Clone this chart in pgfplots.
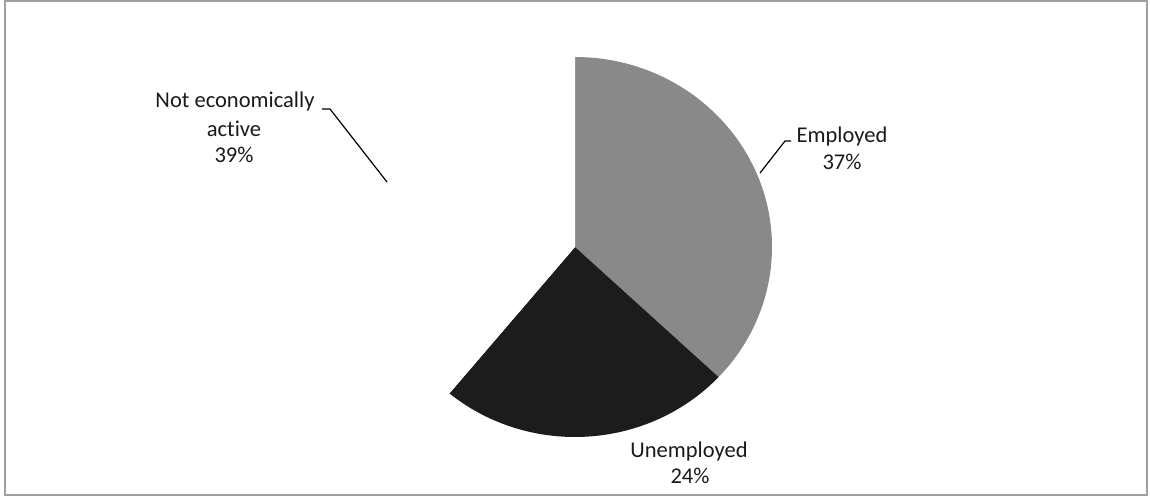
\documentclass[border=0pt]{standalone}
\usepackage{pgfplots}
\pgfplotsset{compat=1.18}
\usepackage{pgfplotstable}
\usepackage{fontspec}
\setmainfont{Carlito}[Ligatures=NoCommon]

\definecolor{empcol}{HTML}{898989}
\definecolor{unecol}{HTML}{1C1C1C}
\definecolor{txtcol}{HTML}{1A1A1A}
\definecolor{framecol}{HTML}{A0A0A0}

% shares in percent, clockwise from 12 o'clock
\pgfplotstableread{
label value
Employed 37
Unemployed 24
Inactive 39
}\piedata

\begin{document}
\begin{tikzpicture}
\pgfplotstablegetelem{0}{value}\of\piedata
\pgfmathsetmacro\aEmp{90-3.6*\pgfplotsretval}
\pgfplotstablegetelem{1}{value}\of\piedata
\pgfmathsetmacro\aUne{\aEmp-3.6*\pgfplotsretval}
\begin{axis}[
	x=0.75pt, y=0.75pt,
	xmin=0, xmax=1150, ymin=0, ymax=497,
	scale only axis,
	hide axis,
	clip=false,
]
\path (axis cs:0,0) rectangle (axis cs:1150,497);
\draw[framecol, line width=0.8pt] (axis cs:5,2) rectangle (axis cs:1147,496);

% slices (centre at 575,250; scanned pie is slightly wide)
\fill[empcol] (axis cs:575,250) -- ++(90:147.75pt and 142.5pt)
	arc[start angle=90, end angle=\aEmp, x radius=147.75pt, y radius=142.5pt] -- cycle;
\fill[unecol] (axis cs:575,250) -- ++(\aEmp:147.75pt and 142.5pt)
	arc[start angle=\aEmp, end angle=\aUne, x radius=147.75pt, y radius=142.5pt] -- cycle;
\fill[white] (axis cs:575,250) -- ++(\aUne:147.75pt and 142.5pt)
	arc[start angle=\aUne, end angle=-270, x radius=147.75pt, y radius=142.5pt] -- cycle;

% leader lines
\draw[black, line width=0.9pt] (axis cs:322,388) -- (axis cs:330,388) -- (axis cs:387,315);
\draw[black, line width=0.9pt] (axis cs:791,356) -- (axis cs:785,356) -- (axis cs:760,324);

% labels
\begin{scope}[every node/.style={anchor=base, inner sep=0pt, text=txtcol, font=\fontsize{16.9}{20}\selectfont}]
\node at (axis cs:235,389) {Not economically};
\node at (axis cs:234,360) {active};
\node at (axis cs:234,334) {39\%};
\node at (axis cs:842,354) {Employed};
\node at (axis cs:842,327) {37\%};
\node at (axis cs:689,40) {Unemployed};
\node at (axis cs:690,14) {24\%};
\end{scope}
\end{axis}
\end{tikzpicture}
\end{document}
